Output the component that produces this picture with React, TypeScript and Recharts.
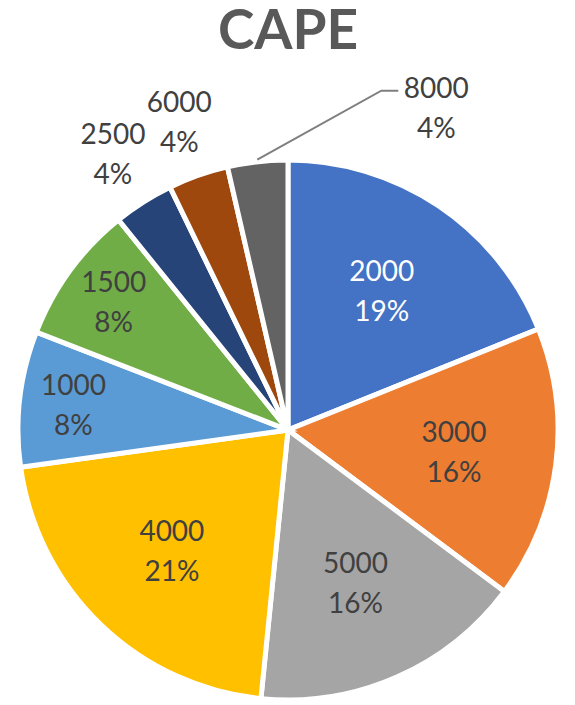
import React from 'react';
import { PieChart, Pie, Cell } from 'recharts';

// CAPE classes (J/kg) and their share of the sample
const categories = ['2000', '3000', '5000', '4000', '1000', '1500', '2500', '6000', '8000'];
const shares = [18.9, 16.3, 16.4, 21.2, 8.1, 8.3, 3.6, 3.6, 3.6];
const colors = ['#4472C4', '#ED7D31', '#A5A5A5', '#FFC000', '#5B9BD5', '#70AD47', '#264478', '#9E480E', '#636363'];
const title = 'CAPE';

const data = categories.map((name, i) => ({ name, value: shares[i] }));

const FONT = 'Lato, "Noto Sans", sans-serif';
const TEXT = '#404040';
const RAD = Math.PI / 180;
const LINE = 40;
const SIZE = 28;

const renderLabel = (props: any) => {
  const { cx, cy, midAngle, outerRadius, percent, index, name } = props;
  const pct = `${Math.round(percent * 100)}%`;
  const isLast = index === data.length - 1;
  let factor = 0.62;
  if (percent < 0.05) factor = 1.21;
  else if (percent < 0.12) factor = 0.8;

  const r = outerRadius * factor;
  let x = cx + r * Math.cos(-midAngle * RAD);
  let y = cy + r * Math.sin(-midAngle * RAD);
  const fill = index === 0 ? '#ffffff' : TEXT;

  if (isLast) {
    // moved label with a leader line, as in the original
    const sx = cx + (outerRadius + 2) * Math.cos(-midAngle * RAD);
    const sy = cy + (outerRadius + 2) * Math.sin(-midAngle * RAD);
    const ex = sx + 124;
    const ey = sy - 69;
    x = ex + 55;
    y = ey + 17;
    return (
      <g key={`lbl-${index}`}>
        <polyline
          points={`${sx},${sy} ${ex},${ey} ${ex + 17},${ey}`}
          fill="none"
          stroke="#7f7f7f"
          strokeWidth={2}
        />
        <text x={x} textAnchor="middle" fontFamily={FONT} fontSize={SIZE} fill={TEXT}>
          <tspan x={x} y={y - LINE / 2 + 10}>{name}</tspan>
          <tspan x={x} y={y + LINE / 2 + 10}>{pct}</tspan>
        </text>
      </g>
    );
  }

  return (
    <text key={`lbl-${index}`} x={x} textAnchor="middle" fontFamily={FONT} fontSize={SIZE} fill={fill}>
      <tspan x={x} y={y - LINE / 2 + 10}>{name}</tspan>
      <tspan x={x} y={y + LINE / 2 + 10}>{pct}</tspan>
    </text>
  );
};

export default function App() {
  return (
    <div style={{ position: 'absolute', left: 0, top: 0, width: 575, height: 705, background: '#fff' }}>
      <PieChart width={575} height={705} margin={{ top: 0, right: 0, bottom: 0, left: 0 }}>
        <text
          x={288}
          y={49}
          textAnchor="middle"
          fontFamily={FONT}
          fontWeight="bold"
          fontSize={55}
          fill="#595959"
        >
          {title}
        </text>
        <Pie
          data={data}
          dataKey="value"
          nameKey="name"
          cx={288}
          cy={430}
          outerRadius={270}
          startAngle={90}
          endAngle={-270}
          stroke="#ffffff"
          strokeWidth={5}
          label={renderLabel}
          labelLine={false}
          isAnimationActive={false}
        >
          {data.map((entry, i) => (
            <Cell key={entry.name} fill={colors[i]} />
          ))}
        </Pie>
      </PieChart>
    </div>
  );
}
